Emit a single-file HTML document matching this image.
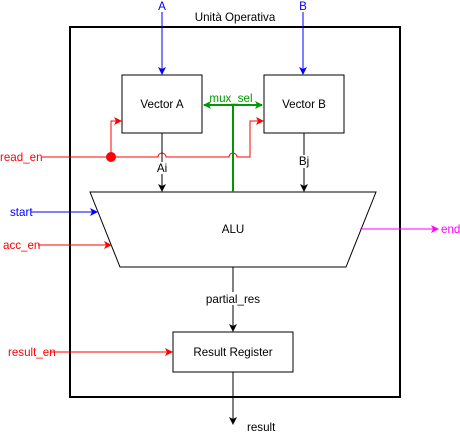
<!DOCTYPE html>
<html><head><style>html,body{margin:0;padding:0;background:#fff}svg{display:block}text{font-family:"Liberation Sans",Arial,sans-serif;font-size:11.6px}</style></head><body>
<svg width="460" height="436" viewBox="0 0 460 436" xmlns="http://www.w3.org/2000/svg">
<defs>
<marker id="ak" markerWidth="8" markerHeight="8" refX="7" refY="4" orient="auto" markerUnits="userSpaceOnUse"><path d="M0,0 L8,4 L0,8 L2,4 z" fill="#000"/></marker>
<marker id="ab" markerWidth="8" markerHeight="8" refX="7" refY="4" orient="auto" markerUnits="userSpaceOnUse"><path d="M0,0 L8,4 L0,8 L2,4 z" fill="#0000ff"/></marker>
<marker id="ar" markerWidth="8" markerHeight="8" refX="7" refY="4" orient="auto" markerUnits="userSpaceOnUse"><path d="M0,0 L8,4 L0,8 L2,4 z" fill="#ff0000"/></marker>
<marker id="ag" markerWidth="8" markerHeight="8" refX="7" refY="4" orient="auto-start-reverse" markerUnits="userSpaceOnUse"><path d="M0,0 L8,4 L0,8 L2,4 z" fill="#009900"/></marker>
<marker id="am" markerWidth="8" markerHeight="8" refX="7" refY="4" orient="auto" markerUnits="userSpaceOnUse"><path d="M0,0 L8,4 L0,8 L2,4 z" fill="#ff00ff"/></marker>
</defs>
<rect x="70" y="27" width="330" height="370" fill="none" stroke="#000" stroke-width="2"/>
<text x="235" y="21" text-anchor="middle">Unità Operativa</text>
<rect x="122" y="75" width="80" height="58" fill="#fff" stroke="#000"/>
<text x="162" y="108" text-anchor="middle">Vector A</text>
<rect x="264" y="75" width="80" height="58" fill="#fff" stroke="#000"/>
<text x="304" y="108" text-anchor="middle">Vector B</text>
<polygon points="90,192 376,192 346,267 120,267" fill="#fff" stroke="#000"/>
<text x="233" y="233" text-anchor="middle">ALU</text>
<rect x="173" y="332" width="120" height="40" fill="#fff" stroke="#000"/>
<text x="233" y="356" text-anchor="middle">Result Register</text>
<line x1="162" y1="12" x2="162" y2="74" stroke="#0000ff" marker-end="url(#ab)"/>
<text x="162" y="10" text-anchor="middle" fill="#0000ff">A</text>
<line x1="303" y1="12" x2="303" y2="74" stroke="#0000ff" marker-end="url(#ab)"/>
<text x="303" y="10" text-anchor="middle" fill="#0000ff">B</text>
<path d="M42,157 H158 a4,4 0 0 1 8,0 H229 a4,4 0 0 1 8,0 H250 V121 H263" fill="none" stroke="#ff0000" marker-end="url(#ar)"/>
<path d="M111,157 V121 H121" fill="none" stroke="#ff0000" marker-end="url(#ar)"/>
<circle cx="111" cy="157" r="5" fill="#ff0000"/>
<text x="0" y="161" fill="#ff0000">read_en</text>
<line x1="162" y1="133" x2="162" y2="191" stroke="#000" marker-end="url(#ak)"/>
<rect x="155" y="162" width="14" height="12" fill="#fff"/>
<text x="162" y="172" text-anchor="middle">Ai</text>
<line x1="304" y1="133" x2="304" y2="191" stroke="#000" marker-end="url(#ak)"/>
<rect x="297" y="155" width="14" height="13" fill="#fff"/>
<text x="304" y="165" text-anchor="middle">Bj</text>
<line x1="204" y1="105" x2="262" y2="105" stroke="#009900" stroke-width="2" marker-start="url(#ag)" marker-end="url(#ag)"/>
<line x1="233" y1="105" x2="233" y2="192" stroke="#009900" stroke-width="2"/>
<text x="231" y="102" text-anchor="middle" fill="#009900">mux_sel</text>
<line x1="31" y1="212" x2="97" y2="212" stroke="#0000ff" marker-end="url(#ab)"/>
<text x="10" y="216" fill="#0000ff">start</text>
<line x1="38" y1="245" x2="111" y2="245" stroke="#ff0000" marker-end="url(#ar)"/>
<text x="3" y="249" fill="#ff0000">acc_en</text>
<line x1="360" y1="229" x2="438" y2="229" stroke="#ff00ff" marker-end="url(#am)"/>
<text x="441" y="233" fill="#ff00ff">end</text>
<line x1="233" y1="267" x2="233" y2="331" stroke="#000" marker-end="url(#ak)"/>
<rect x="205" y="292" width="56" height="13" fill="#fff"/>
<text x="233" y="303" text-anchor="middle">partial_res</text>
<line x1="50" y1="352" x2="172" y2="352" stroke="#ff0000" marker-end="url(#ar)"/>
<text x="8" y="356" fill="#ff0000">result_en</text>
<line x1="233" y1="372" x2="233" y2="424" stroke="#000" marker-end="url(#ak)"/>
<text x="247" y="431">result</text>
</svg>
</body></html>
